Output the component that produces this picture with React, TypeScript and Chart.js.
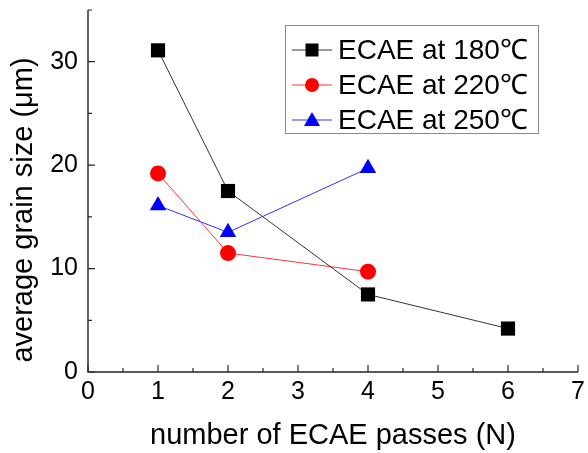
import { useEffect, useRef } from 'react';
import { Chart, registerables } from 'chart.js';

Chart.register(...registerables);

const passes180 = [1, 2, 4, 6];
const size180 = [31.1, 17.5, 7.5, 4.2];
const passes220 = [1, 2, 4];
const size220 = [19.2, 11.5, 9.7];
const passes250 = [1, 2, 4];
const size250 = [16.1, 13.5, 19.7];
const seriesLabels = ['ECAE at 180℃', 'ECAE at 220℃', 'ECAE at 250℃'];
const xTicks = [0, 1, 2, 3, 4, 5, 6, 7];
const xMinorTicks = [0.5, 1.5, 2.5, 3.5, 4.5, 5.5, 6.5];
const yTicks = [0, 10, 20, 30];
const yMinorTicks = [5, 15, 25, 35];
const xTitle = 'number of ECAE passes (N)';
const yTitle = 'average grain size (μm)';

const FONT = '"Liberation Sans", Arial, Helvetica, sans-serif';

const axesPlugin = {
  id: 'axesPlugin',
  beforeDatasetsDraw(chart: any) {
    const { ctx, chartArea, scales } = chart;
    const xs = scales.x;
    const ys = scales.y;
    const left = chartArea.left;
    const bottom = chartArea.bottom;
    ctx.save();
    ctx.strokeStyle = '#262626';
    ctx.lineWidth = 1.4;
    ctx.beginPath();
    ctx.moveTo(left, chartArea.top);
    ctx.lineTo(left, bottom);
    ctx.lineTo(chartArea.right, bottom);
    ctx.stroke();
    ctx.lineWidth = 1.2;
    ctx.beginPath();
    xTicks.forEach((v) => {
      const px = xs.getPixelForValue(v);
      ctx.moveTo(px, bottom);
      ctx.lineTo(px, bottom - 7);
    });
    xMinorTicks.forEach((v) => {
      const px = xs.getPixelForValue(v);
      ctx.moveTo(px, bottom);
      ctx.lineTo(px, bottom - 4);
    });
    yTicks.forEach((v) => {
      const py = ys.getPixelForValue(v);
      ctx.moveTo(left, py);
      ctx.lineTo(left + 7, py);
    });
    yMinorTicks.forEach((v) => {
      const py = ys.getPixelForValue(v);
      ctx.moveTo(left, py);
      ctx.lineTo(left + 4, py);
    });
    ctx.stroke();

    // y-axis title
    ctx.save();
    ctx.translate(32, 210);
    ctx.rotate(-Math.PI / 2);
    ctx.fillStyle = '#000';
    ctx.font = `29px ${FONT}`;
    ctx.textAlign = 'center';
    ctx.textBaseline = 'alphabetic';
    ctx.fillText(yTitle, 0, 0);
    ctx.restore();
    ctx.restore();
  },
};

const legendPlugin = {
  id: 'boxLegend',
  afterDraw(chart: any) {
    const { ctx } = chart;
    const boxL = 285, boxT = 25, boxW = 253, boxH = 108;
    ctx.save();
    ctx.fillStyle = '#ffffff';
    ctx.fillRect(boxL, boxT, boxW, boxH);
    ctx.strokeStyle = '#8a8a8a';
    ctx.lineWidth = 1;
    ctx.strokeRect(boxL + 0.5, boxT + 0.5, boxW, boxH);
    const rows = [50, 85, 120];
    chart.data.datasets.forEach((ds: any, i: number) => {
      const cy = rows[i];
      ctx.strokeStyle = ds.borderColor;
      ctx.lineWidth = 1;
      ctx.beginPath();
      ctx.moveTo(292, cy);
      ctx.lineTo(332, cy);
      ctx.stroke();
      ctx.fillStyle = ds.pointBackgroundColor;
      const cx = 312;
      ctx.beginPath();
      if (ds.pointStyle === 'rect') {
        ctx.rect(cx - 6.5, cy - 6.5, 13, 13);
      } else if (ds.pointStyle === 'circle') {
        ctx.arc(cx, cy, 7, 0, Math.PI * 2);
      } else {
        ctx.moveTo(cx, cy - 8);
        ctx.lineTo(cx + 8, cy + 6);
        ctx.lineTo(cx - 8, cy + 6);
        ctx.closePath();
      }
      ctx.fill();
      ctx.fillStyle = '#000000';
      ctx.font = `28px ${FONT}`;
      ctx.textBaseline = 'middle';
      ctx.textAlign = 'left';
      ctx.fillText(ds.label, 338, cy + 1);
    });
    ctx.restore();
  },
};

export default function App() {
  const ref = useRef<HTMLCanvasElement | null>(null);
  useEffect(() => {
    document.body.style.margin = '0';
    const canvas = ref.current;
    if (!canvas) return;
    const mk = (xsArr: number[], ysArr: number[]) => xsArr.map((x, i) => ({ x, y: ysArr[i] }));
    const chart = new Chart(canvas, {
      type: 'line',
      data: {
        datasets: [
          {
            label: seriesLabels[0],
            data: mk(passes180, size180),
            borderColor: '#333333',
            borderWidth: 1,
            pointStyle: 'rect',
            pointRadius: 10,
            pointBackgroundColor: '#000000',
            pointBorderColor: '#000000',
            pointBorderWidth: 0,
          },
          {
            label: seriesLabels[1],
            data: mk(passes220, size220),
            borderColor: '#ff3333',
            borderWidth: 1,
            pointStyle: 'circle',
            pointRadius: 8,
            pointBackgroundColor: '#ff0000',
            pointBorderColor: '#ff0000',
            pointBorderWidth: 0,
          },
          {
            label: seriesLabels[2],
            data: mk(passes250, size250),
            borderColor: '#3333ff',
            borderWidth: 1,
            pointStyle: 'triangle',
            pointRadius: 9.5,
            pointBackgroundColor: '#0000ff',
            pointBorderColor: '#0000ff',
            pointBorderWidth: 0,
          },
        ],
      } as any,
      options: {
        animation: false,
        responsive: false,
        devicePixelRatio: 1,
        layout: { padding: { left: 0, top: 10, right: 8, bottom: 0 } },
        plugins: { legend: { display: false }, tooltip: { enabled: false } },
        elements: { line: { tension: 0 } },
        scales: {
          x: {
            type: 'linear',
            min: 0,
            max: 7,
            grid: { display: false, drawTicks: false },
            border: { display: false },
            afterBuildTicks: (s: any) => {
              s.ticks = xTicks.map((v) => ({ value: v }));
            },
            afterFit: (s: any) => {
              s.height = 81;
              s.paddingLeft = 0;
              s.paddingRight = 0;
            },
            ticks: {
              padding: 5,
              color: '#000',
              font: { family: FONT, size: 25 },
              autoSkip: false,
              maxRotation: 0,
            },
            title: {
              display: true,
              text: xTitle,
              color: '#000',
              font: { family: FONT, size: 29 },
              padding: { top: 0, bottom: 0 },
            },
          },
          y: {
            type: 'linear',
            min: 0,
            max: 35,
            grid: { display: false, drawTicks: false },
            border: { display: false },
            afterBuildTicks: (s: any) => {
              s.ticks = yTicks.map((v) => ({ value: v }));
            },
            afterFit: (s: any) => {
              s.width = 88;
              s.paddingTop = 0;
              s.paddingBottom = 0;
            },
            ticks: {
              padding: 10,
              color: '#000',
              font: { family: FONT, size: 25 },
            },
            title: { display: false },
          },
        },
      },
      plugins: [axesPlugin, legendPlugin],
    });
    return () => chart.destroy();
  }, []);
  return (
    <div style={{ width: 588, height: 453 }}>
      <canvas ref={ref} width={588} height={453} />
    </div>
  );
}
